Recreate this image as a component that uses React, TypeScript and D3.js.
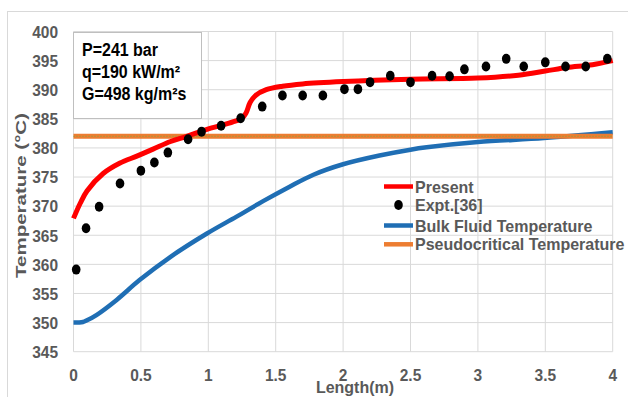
import * as d3 from 'd3'

// Present model (red line)
const presentX = [0, 0.05, 0.1, 0.22, 0.345, 0.47, 0.59, 0.72, 0.84, 0.99, 1.1, 1.2, 1.25, 1.28, 1.31, 1.35, 1.43, 1.55, 1.7, 2.0, 2.5, 3.0, 3.3, 3.5, 3.66, 3.85, 4.0]
const presentT = [367.9, 370.5, 372.6, 375.6, 377.4, 378.6, 379.8, 381.1, 382.0, 383.2, 383.9, 384.6, 385.1, 386.0, 387.8, 389.0, 390.0, 390.6, 391.0, 391.4, 391.8, 392.0, 392.5, 393.2, 393.8, 394.3, 395.0]

// Expt.[36] (black dots)
const exptX = [0.02, 0.093, 0.19, 0.345, 0.5, 0.6, 0.7, 0.85, 0.95, 1.095, 1.24, 1.4, 1.55, 1.7, 1.85, 2.01, 2.11, 2.2, 2.35, 2.5, 2.66, 2.79, 2.9, 3.06, 3.21, 3.34, 3.5, 3.65, 3.8, 3.96]
const exptT = [359.1, 366.2, 369.9, 373.9, 376.1, 377.5, 379.2, 381.5, 382.8, 383.8, 385.1, 387.1, 389.0, 389.0, 389.0, 390.1, 390.1, 391.3, 392.4, 391.3, 392.4, 392.3, 393.5, 394.0, 395.3, 394.0, 394.7, 394.0, 394.0, 395.3]

// Bulk fluid temperature (blue line)
const bulkX = [0, 0.07, 0.1, 0.17, 0.32, 0.49, 0.72, 0.99, 1.21, 1.41, 1.6, 1.78, 2.0, 2.27, 2.5, 2.62, 3.0, 3.49, 4.0]
const bulkT = [350.0, 350.1, 350.4, 351.3, 353.9, 357.3, 361.3, 365.3, 368.2, 370.9, 373.3, 375.4, 377.2, 378.7, 379.7, 380.1, 381.0, 381.7, 382.7]

const pseudoT = 382

const xTicks = [0, 0.5, 1, 1.5, 2, 2.5, 3, 3.5, 4]
const yTicks = [345, 350, 355, 360, 365, 370, 375, 380, 385, 390, 395, 400]

const infoLines = ['P=241 bar', 'q=190 kW/m²', 'G=498 kg/m²s']
const legendItems = ['Present', 'Expt.[36]', 'Bulk Fluid Temperature', 'Pseudocritical Temperature']

const FONT = '"Liberation Sans", Arial, sans-serif'
const GRAY = '#595959'

// text stretched a little vertically, like the source image
function SText({ x, y, sy, children, ...rest }: any) {
  return (
    <text transform={`translate(${x},${y}) scale(1,${sy})`} fontFamily={FONT} fontWeight="bold" {...rest}>
      {children}
    </text>
  )
}

export default function App() {
  const width = 628
  const height = 397

  const x = d3.scaleLinear().domain([0, 4]).range([73.5, 612.7])
  const y = d3.scaleLinear().domain([345, 400]).range([351.7, 31.5])

  const line = d3.line<[number, number]>()
    .x(d => x(d[0]))
    .y(d => y(d[1]))
    .curve(d3.curveCatmullRom.alpha(0.5))

  const presentPath = line(presentX.map((v, i) => [v, presentT[i]])) || ''
  const bulkPath = line(bulkX.map((v, i) => [v, bulkT[i]])) || ''

  const legendColors = ['#ff0000', '#000', '#1f6eb4', '#ed7d31']
  const legendY = [186.5, 205, 225.5, 244.3]

  return (
    <svg width={width} height={height} style={{ position: 'absolute', left: 0, top: 0, background: '#fff' }}>
      <rect x={7.5} y={11.5} width={700} height={500} fill="#fff" stroke="#d9d9d9" />

      {/* gridlines */}
      {yTicks.map(t => (
        <line key={'gy' + t} x1={x(0)} x2={x(4)} y1={y(t)} y2={y(t)} stroke="#d9d9d9" />
      ))}
      {xTicks.map(t => (
        <line key={'gx' + t} x1={x(t)} x2={x(t)} y1={y(345)} y2={y(400)} stroke="#d9d9d9" />
      ))}

      {/* tick labels */}
      {yTicks.map(t => (
        <SText key={'ly' + t} x={58} y={y(t)} sy={1.1} fontSize={15.5} fill={GRAY} textAnchor="end" dominantBaseline="central">
          {t}
        </SText>
      ))}
      {xTicks.map(t => (
        <SText key={'lx' + t} x={x(t)} y={374.5} sy={1.1} fontSize={15.5} fill={GRAY} textAnchor="middle" dominantBaseline="central">
          {String(t)}
        </SText>
      ))}

      {/* axis titles */}
      <SText x={355} y={387} sy={1.05} fontSize={16} fill={GRAY} textAnchor="middle" dominantBaseline="central">
        Length(m)
      </SText>
      <text
        transform="translate(20,195.5) rotate(-90)"
        fontFamily={FONT}
        fontWeight="bold"
        fontSize={15.5}
        fill={GRAY}
        textAnchor="middle"
        dominantBaseline="central"
        textLength={165}
        lengthAdjust="spacingAndGlyphs"
      >
        Temperature (°C)
      </text>

      {/* series */}
      <path d={bulkPath} fill="none" stroke="#1f6eb4" strokeWidth={4.5} />
      <line x1={x(0)} x2={x(4)} y1={y(pseudoT)} y2={y(pseudoT)} stroke="#ed7d31" strokeWidth={5} />
      <line x1={x(0)} x2={x(4)} y1={y(pseudoT)} y2={y(pseudoT)} stroke="#70ad47" strokeWidth={1} strokeDasharray="1,2" />
      <path d={presentPath} fill="none" stroke="#ff0000" strokeWidth={5} />
      {exptX.map((v, i) => (
        <ellipse key={'e' + i} cx={x(v)} cy={y(exptT[i])} rx={4.3} ry={5} fill="#000" />
      ))}

      {/* info box */}
      <rect x={73.5} y={32.5} width={128} height={86} fill="#fff" stroke="#bfbfbf" />
      {infoLines.map((s, i) => (
        <SText key={s} x={82} y={56 + i * 22} sy={1.1} fontSize={16} fill="#000">
          {s}
        </SText>
      ))}

      {/* legend */}
      {legendItems.map((s, i) => (
        <g key={s}>
          {i === 1 ? (
            <ellipse cx={398.5} cy={legendY[i]} rx={4.3} ry={5} fill="#000" />
          ) : (
            <line x1={384} x2={413} y1={legendY[i]} y2={legendY[i]} stroke={legendColors[i]} strokeWidth={4.5} />
          )}
          <SText x={415} y={legendY[i]} sy={1.05} fontSize={16} fill={GRAY} dominantBaseline="central">
            {s}
          </SText>
        </g>
      ))}
    </svg>
  )
}
